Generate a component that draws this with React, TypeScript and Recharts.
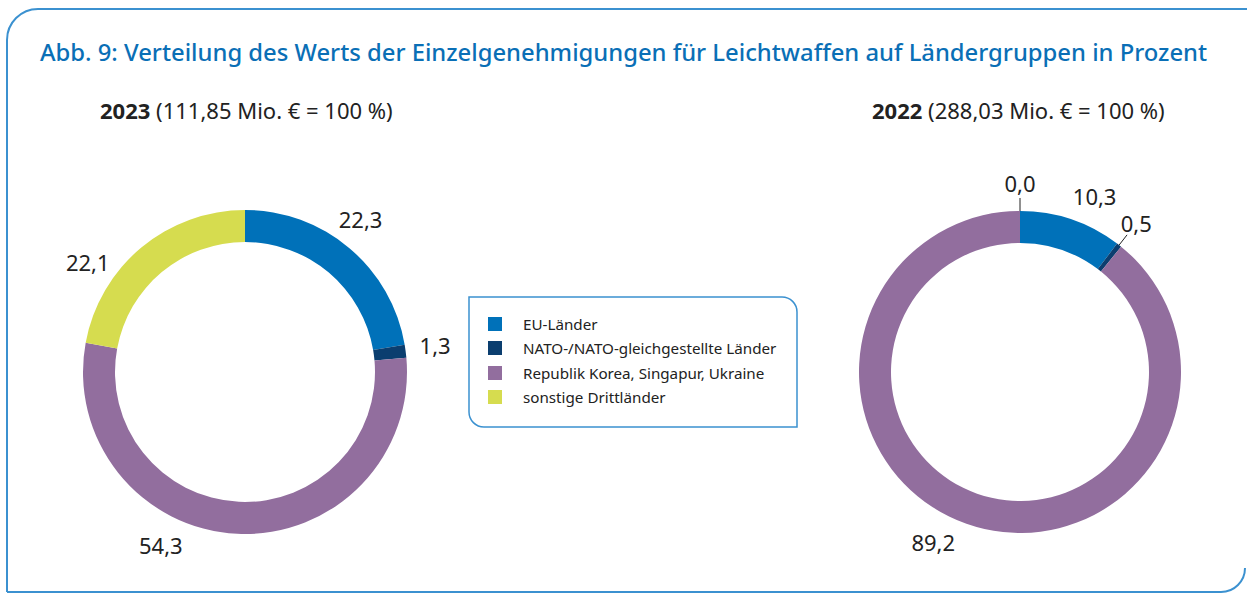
import React from 'react';
import { PieChart, Pie, Cell } from 'recharts';

// Categories and values (percent)
const categories = [
  'EU-Länder',
  'NATO-/NATO-gleichgestellte Länder',
  'Republik Korea, Singapur, Ukraine',
  'sonstige Drittländer',
];
const colors = ['#0071b9', '#0b3e6f', '#926e9e', '#d6dc4f'];
const values2023 = [22.3, 1.3, 54.3, 22.1];
const values2022 = [10.3, 0.5, 89.2, 0.0];
// label angle overrides (null = use slice middle), as in the original hand-placed labels
const labelAngles2023: (number | null)[] = [53, 8, 244, 145];
const labelAngles2022: (number | null)[] = [67, null, 243, 90];

const FONT = '"Noto Sans", "Open Sans", sans-serif';
const BLUE = '#0a6fb6';
const LINE = '#3b91d0';
const RADIAN = Math.PI / 180;

const toData = (vals: number[]) => categories.map((name, i) => ({ name, value: vals[i] }));

const makeLabel = (angles: (number | null)[]) => (props: any) => {
  const { cx, cy, midAngle, outerRadius, index, value } = props;
  const a = angles[index] ?? midAngle;
  const small = value < 1;
  const r = small ? outerRadius + 28 : outerRadius + 30;
  const x = cx + r * Math.cos(-a * RADIAN);
  const y = cy + r * Math.sin(-a * RADIAN);
  const text = value.toFixed(1).replace('.', ',');
  return (
    <g key={`lbl-${index}`}>
      {small && (
        <line
          x1={cx + outerRadius * Math.cos(-midAngle * RADIAN)}
          y1={cy + outerRadius * Math.sin(-midAngle * RADIAN)}
          x2={cx + (outerRadius + 13) * Math.cos(-midAngle * RADIAN)}
          y2={cy + (outerRadius + 13) * Math.sin(-midAngle * RADIAN)}
          stroke="#222"
          strokeWidth={1}
        />
      )}
      <text
        x={x}
        y={y}
        textAnchor="middle"
        dominantBaseline="central"
        fill="#222"
        fontSize={22}
        fontFamily={FONT}
      >
        {text}
      </text>
    </g>
  );
};

export default function App() {
  return (
    <div style={{ position: 'absolute', left: 0, top: 0, width: 1247, height: 597, background: '#fff', fontFamily: FONT }}>
      {/* outer frame */}
      <svg width={1247} height={597} style={{ position: 'absolute', left: 0, top: 0 }}>
        <path d="M 7 592 L 7 40 A 31 31 0 0 1 38 9 L 1247 9" fill="none" stroke={LINE} strokeWidth={2} />
        <path d="M 7 592 L 1221 592 A 24 24 0 0 0 1245 568" fill="none" stroke={LINE} strokeWidth={2} />
      </svg>

      <div style={{ position: 'absolute', left: 40, top: 36, fontSize: 23.8, fontWeight: 500, color: BLUE, whiteSpace: 'nowrap' }}>
        Abb. 9: Verteilung des Werts der Einzelgenehmigungen für Leichtwaffen auf Ländergruppen in Prozent
      </div>
      <div style={{ position: 'absolute', left: 100, top: 95, fontSize: 22, color: '#222', whiteSpace: 'nowrap' }}>
        <b>2023</b> (111,85 Mio. € = 100 %)
      </div>
      <div style={{ position: 'absolute', left: 872, top: 95, fontSize: 22, color: '#222', whiteSpace: 'nowrap' }}>
        <b>2022</b> (288,03 Mio. € = 100 %)
      </div>

      <div style={{ position: 'absolute', left: 0, top: 0 }}>
        <PieChart width={1247} height={597} margin={{ top: 0, right: 0, bottom: 0, left: 0 }}>
          <Pie
            data={toData(values2023)}
            dataKey="value"
            cx={245}
            cy={372}
            innerRadius={130}
            outerRadius={162}
            startAngle={90}
            endAngle={-270}
            stroke="none"
            label={makeLabel(labelAngles2023)}
            labelLine={false}
            isAnimationActive={false}
          >
            {values2023.map((_, i) => (
              <Cell key={i} fill={colors[i]} />
            ))}
          </Pie>
          <Pie
            data={toData(values2022)}
            dataKey="value"
            cx={1020}
            cy={372}
            innerRadius={129}
            outerRadius={161}
            startAngle={90}
            endAngle={-270}
            stroke="none"
            label={makeLabel(labelAngles2022)}
            labelLine={false}
            isAnimationActive={false}
          >
            {values2022.map((_, i) => (
              <Cell key={i} fill={colors[i]} />
            ))}
          </Pie>
        </PieChart>
      </div>

      {/* legend */}
      <svg width={1247} height={597} style={{ position: 'absolute', left: 0, top: 0, pointerEvents: 'none' }}>
        <path
          d="M 469 297 L 782 297 A 15 15 0 0 1 797 312 L 797 427 L 484 427 A 15 15 0 0 1 469 412 Z"
          fill="none"
          stroke={LINE}
          strokeWidth={1.5}
        />
      </svg>
      <div style={{ position: 'absolute', left: 488, top: 312 }}>
        {categories.map((c, i) => (
          <div key={c} style={{ display: 'flex', alignItems: 'center', height: 24.3 }}>
            <span style={{ width: 14, height: 14, background: colors[i], display: 'inline-block' }} />
            <span style={{ marginLeft: 21, fontSize: 15.2, color: '#222', whiteSpace: 'nowrap' }}>{c}</span>
          </div>
        ))}
      </div>
    </div>
  );
}
